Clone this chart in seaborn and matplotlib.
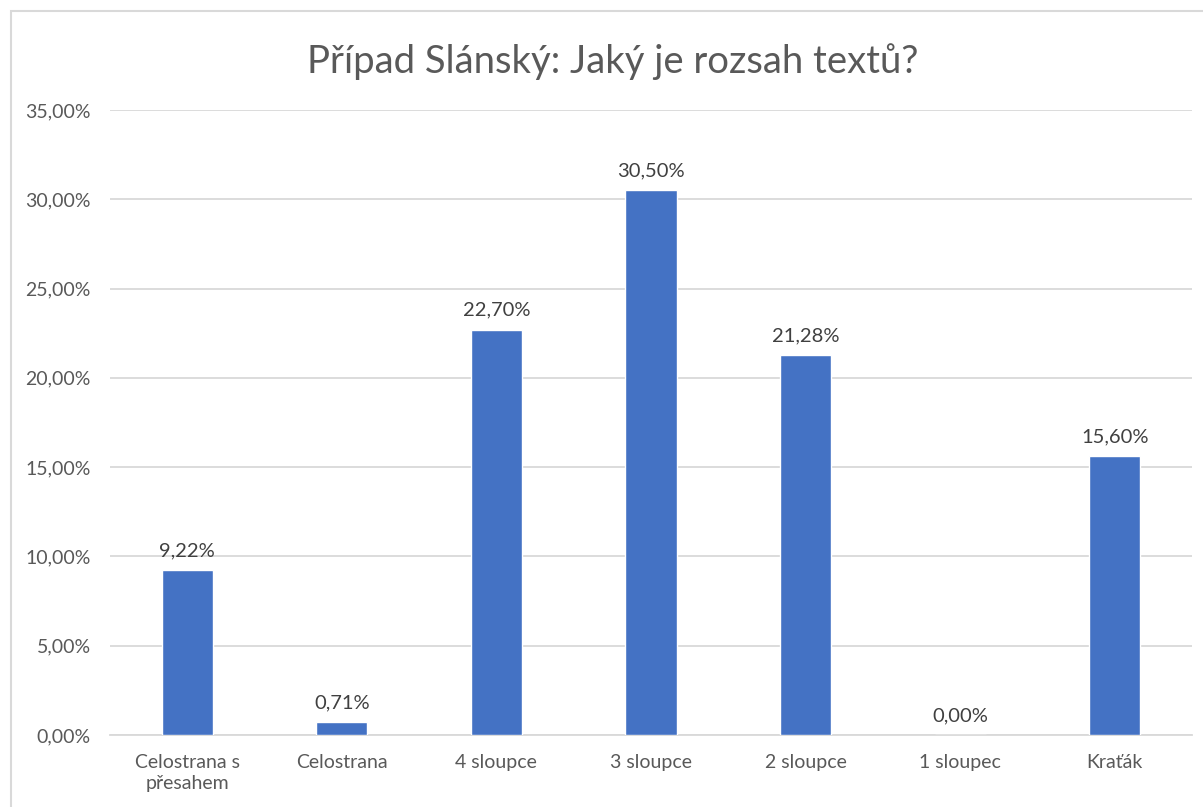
import matplotlib
matplotlib.use("Agg")
import matplotlib.pyplot as plt
import seaborn as sns
import pandas as pd
from matplotlib.patches import Rectangle

# === Data ===
categories = ["Celostrana s\npřesahem", "Celostrana", "4 sloupce", "3 sloupce",
              "2 sloupce", "1 sloupec", "Kraťák"]
shares = [9.22, 0.71, 22.70, 30.50, 21.28, 0.00, 15.60]
y_ticks = [0, 5, 10, 15, 20, 25, 30, 35]

df = pd.DataFrame({"kategorie": categories, "podil": shares})

sns.set_theme(style="white")
plt.rcParams["font.family"] = ["Lato", "DejaVu Sans"]

fig = plt.figure(figsize=(12.03, 8.07), dpi=100)
ax = fig.add_axes([110 / 1203, 1 - 735 / 807, 1082 / 1203, 625 / 807])

# chart frame like an Excel chart area
fig.patches.append(Rectangle((11 / 1203, -0.1), 1.2, 1 - 11 / 807 + 0.1,
                             transform=fig.transFigure, fill=False,
                             edgecolor="#d9d9d9", linewidth=1.5))

sns.barplot(data=df, x="kategorie", y="podil", color="#4472C4",
            width=0.33, saturation=1, ax=ax, zorder=3)

ax.set_ylim(0, 35)
ax.set_yticks(y_ticks)
ax.set_yticklabels([f"{t:.2f}%".replace(".", ",") for t in y_ticks])
ax.yaxis.grid(True, color="#d9d9d9", linewidth=1.3, zorder=0)
ax.set_axisbelow(True)
for s in ["top", "right", "left"]:
    ax.spines[s].set_visible(False)
ax.spines["bottom"].set_color("#d9d9d9")
ax.spines["bottom"].set_linewidth(1.3)
ax.set_xlabel("")
ax.set_ylabel("")
ax.tick_params(axis="both", length=0, labelsize=14, colors="#595959")
ax.tick_params(axis="y", pad=14)
ax.tick_params(axis="x", pad=14)
for lbl in ax.get_xticklabels():
    lbl.set_linespacing(1.25)

# data labels
for i, v in enumerate(shares):
    ax.annotate(f"{v:.2f}%".replace(".", ","), (i, v), xytext=(0, 8),
                textcoords="offset points", ha="center", va="bottom",
                fontsize=14.5, color="#404040")

fig.text(613 / 1203, 1 - 62 / 807, "Případ Slánský: Jaký je rozsah textů?",
         ha="center", va="center", fontsize=27.5, color="#595959")

fig.savefig("out.png", dpi=100)
